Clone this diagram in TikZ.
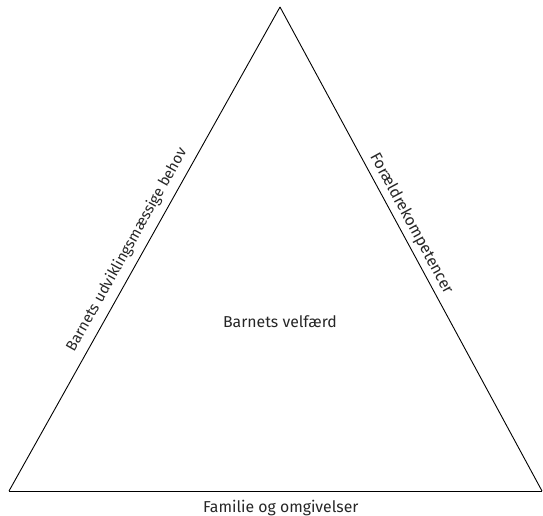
\documentclass[tikz,border=0pt]{standalone}
\usepackage{fontspec}
\setmainfont{Fira Sans}
\usetikzlibrary{positioning}
\tikzstyle{side} = [line width=0.9pt, draw=black]
\tikzstyle{edgelabel} = [font=\fontsize{15.8}{19}\selectfont, text=black!85, sloped, above, inner sep=4pt]
\tikzstyle{mainlabel} = [font=\fontsize{15.8}{19}\selectfont, text=black!85]

\begin{document}
\begin{tikzpicture}[x=1pt, y=-1pt]

        \useasboundingbox (0,0) rectangle (543,516);

        % Corners
        \coordinate (top) at (280,7);
        \coordinate (left) at (9,491);
        \coordinate (right) at (542,491);

        % Triangle
        \draw [side] (left) -- (top) node (needs) [edgelabel, above=3pt, pos=0.483, font=\fontsize{15}{18}\selectfont] {Barnets udviklingsmæssige behov};
        \draw [side] (top) -- (right) node (parents) [edgelabel, pos=0.46] {Forældrekompetencer};
        \draw [side] (right) -- (left) node (family) [mainlabel, below=5pt, pos=0.49] {Familie og omgivelser};

        % Labels
        \node (welfare) [mainlabel] at (280,322) {Barnets velfærd};

    \end{tikzpicture}
\end{document}
